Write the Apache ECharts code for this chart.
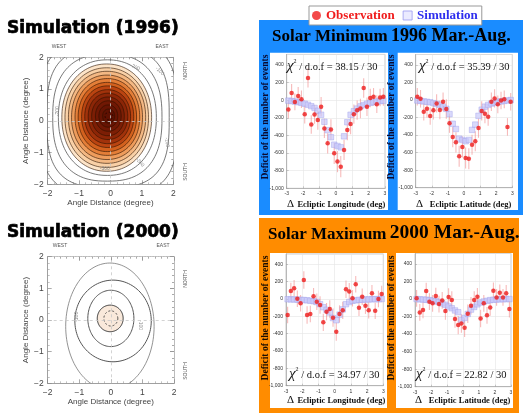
<!DOCTYPE html>
<html><head><meta charset="utf-8">
<script src="https://cdn.jsdelivr.net/npm/echarts@6/dist/echarts.min.js"></script>
<style>html,body{margin:0;padding:0;background:#fff}#c{width:523px;height:413px}</style>
</head><body><div id="c"></div>
<script>
// ---------------- data ----------------
const bins = [-2.9,-2.7,-2.5,-2.3,-2.1,-1.9,-1.7,-1.5,-1.3,-1.1,-0.9,-0.7,-0.5,-0.3,-0.1,0.1,0.3,0.5,0.7,0.9,1.1,1.3,1.5,1.7,1.9,2.1,2.3,2.5,2.7,2.9];

const obsLon96 = [-106,83,-19,49,11,-158,253,-275,-162,-226,-75,-320,-490,-332,-603,-697,-754,-565,-339,-271,-158,-113,-94,139,-75,26,38,-45,30,38];
const simLon96 = [-5,-10,-15,-22,-30,-40,-52,-68,-88,-120,-165,-245,-340,-420,-505,-520,-535,-410,-250,-165,-125,-95,-70,-55,-40,-30,-22,-15,-10,-5];
const errLon96 = [100,100,95,100,100,105,110,105,105,110,110,110,115,115,120,120,120,115,115,115,110,110,110,110,105,105,100,100,100,100];

const obsLat96 = [38,15,-132,-98,-181,-117,-38,-113,-19,-102,-264,-422,-482,-640,-535,-660,-670,-510,-470,-320,-124,-155,-189,-19,19,-49,-4,8,-306,-19];
const simLat96 = [-5,-10,-15,-20,-25,-35,-45,-55,-75,-100,-160,-270,-330,-440,-455,-470,-455,-340,-280,-180,-110,-75,-55,-40,-30,-20,-15,-10,-5,0];
const errLat96 = [100,100,100,100,100,105,105,105,105,110,110,115,115,120,120,120,120,115,115,110,110,110,105,105,105,100,100,100,100,100];

const obsLon00 = [-185,92,123,4,-50,219,-185,-173,31,-31,-69,-269,-146,-115,-215,-377,-173,-131,112,85,8,169,-100,27,-77,-131,65,-135,0,58];
const simLon00 = [-3,-5,-5,-8,-10,-12,-15,-20,-25,-35,-60,-95,-125,-155,-220,-245,-180,-120,-60,-35,-20,-15,-10,-8,-5,-5,-3,-2,-2,0];
const errLon00 = [95,95,95,95,95,100,100,95,95,95,100,100,100,100,105,105,100,100,100,100,95,95,95,95,95,95,95,95,95,95];

const obsLat00 = [8,-152,-125,91,-30,-49,34,-57,-15,-137,23,-11,-228,-297,-278,-327,-167,-76,-11,27,-221,-49,-186,-95,95,19,72,19,65,-114];
const simLat00 = [0,-3,-5,-8,-12,-18,-25,-35,-50,-65,-85,-105,-130,-150,-240,-215,-170,-120,-90,-60,-40,-28,-20,-12,-8,-5,-3,-2,0,0];
const errLat00 = [95,95,95,95,95,95,95,95,95,100,100,100,100,105,105,105,105,100,100,100,100,95,95,95,95,95,95,95,95,95];

const chiValues = ['38.15','35.39','34.97','22.82'];
const dofValue = '30';
const angleTickLabels = {'-2':'\u22122','-1':'\u22121','0':'0','1':'1','2':'2'};

// contour levels 1996 (filled, outer -> inner)
const fill96Cx = [-0.12,-0.12,-0.11,-0.11,-0.10,-0.10,-0.09,-0.09,-0.08,-0.08,-0.07,-0.07,-0.06];
const fill96Cy = [0.10,0.10,0.11,0.11,0.12,0.12,0.13,0.13,0.14,0.14,0.15,0.15,0.15];
const fill96Rx = [1.43,1.33,1.23,1.13,1.03,0.93,0.83,0.73,0.63,0.52,0.41,0.30,0.19];
const fill96Ry = [1.69,1.57,1.45,1.33,1.21,1.09,0.97,0.85,0.73,0.61,0.48,0.35,0.22];
// contour lines 1996 outside the filled area
const line96Cx = [-0.06,-0.08,-0.10,-0.10];
const line96Cy = [0.10,0.10,0.10,0.10];
const line96Rx = [2.2,1.95,1.74,1.56];
const line96Ry = [2.45,2.2,2.0,1.82];
const line96N  = [3.2,3.0,2.5,2.2];
const center96 = [-0.05,0.15,0.12,0.12];
const lab96X = [-1.67,-0.18,0.94,1.8,0.78,1.57];
const lab96Y = [0.3,-1.5,-1.31,-0.68,1.69,1.56];
const lab96Text = ['-200','-300','-200','-100','-200','-100'];
const lab96Rot = [90,0,-50,-80,-25,-45];

// contour levels 2000 (outer -> inner)
const c00Cx = [-0.03,0.07,0.0,-0.02,0.0];
const c00Cy = [-0.2,-0.03,0.05,0.05,0.05];
const c00Rx = [1.4,1.21,0.73,0.41,0.22];
const c00Ry = [2.0,1.29,0.89,0.42,0.24];
const lab00X = [-1.08,0.92];
const lab00Y = [0.1,-0.16];
const lab00Text = ['-100','-100'];
const lab00Rot = [90,-90];

// ---------------- styles ----------------
const fill96Color = ['#fde4c8','#f9d0a6','#f4b883','#ee9c5c','#e47e38','#d3611e','#ba4411','#a1320b','#8c2607','#7c1e05','#701804','#661403','#5e1102'];
const c00Fill = ['none','none','none','#f9e9db','none'];
const c00Stroke = ['#777','#555','#555','#333','#444'];
const c00Dash = [null,null,null,null,[2,2]];
const SERIF = '"Liberation Serif", "Times New Roman", serif';
const SANS = '"Liberation Sans", Arial, sans-serif';

function shapePoints(api, cx, cy, rx, ry, n) {
  const pts = [];
  const ex = 2 / n;
  for (let k = 0; k < 120; k++) {
    const t = k / 120 * 2 * Math.PI;
    const c = Math.cos(t), s = Math.sin(t);
    pts.push(api.coord([cx + rx * Math.sign(c) * Math.pow(Math.abs(c), ex),
                        cy + ry * Math.sign(s) * Math.pow(Math.abs(s), ex)]));
  }
  return pts;
}
function contourSeries(gi, data, styleFn) {
  return {
    type: 'custom', xAxisIndex: gi, yAxisIndex: gi, clip: true, silent: true, z: 2,
    data: data,
    renderItem: function (params, api) {
      const i = params.dataIndex;
      return { type: 'polygon',
        shape: { points: shapePoints(api, api.value(0), api.value(1), api.value(2), api.value(3), api.value(4)) },
        style: styleFn(i) };
    }
  };
}
function labelSeries(gi, xs, ys, texts, rots) {
  return {
    type: 'custom', xAxisIndex: gi, yAxisIndex: gi, clip: true, silent: true, z: 4,
    data: xs.map((x, i) => [x, ys[i]]),
    renderItem: function (params, api) {
      const i = params.dataIndex;
      const p = api.coord([api.value(0), api.value(1)]);
      return { type: 'text', x: p[0], y: p[1], rotation: rots[i] * Math.PI / 180,
        style: { text: texts[i], fill: '#888', font: '5px ' + SANS, align: 'center', verticalAlign: 'middle' } };
    }
  };
}
function errItem(params, api) {
  const x = api.value(0), y = api.value(1), e = api.value(2);
  const p1 = api.coord([x, y - e]), p2 = api.coord([x, y + e]);
  return { type: 'line', shape: { x1: p1[0], y1: p1[1], x2: p2[0], y2: p2[1] },
    style: { stroke: 'rgba(240,130,130,0.55)', lineWidth: 1.1 } };
}
function panelSeries(gi, obs, sim, err) {
  return [
    { type: 'custom', name: 'err' + gi, xAxisIndex: gi, yAxisIndex: gi, silent: true, z: 2,
      data: bins.map((x, i) => [x, obs[i], err[i]]), renderItem: errItem },
    { type: 'scatter', name: 'Simulation', xAxisIndex: gi, yAxisIndex: gi, z: 3, silent: true,
      data: bins.map((x, i) => [x, sim[i]]), symbol: 'rect', symbolSize: 5.5,
      itemStyle: { color: 'rgba(200,200,250,0.85)', borderColor: 'rgba(160,160,235,0.9)', borderWidth: 0.6 } },
    { type: 'scatter', name: 'Observation', xAxisIndex: gi, yAxisIndex: gi, z: 4, silent: true,
      data: bins.map((x, i) => [x, obs[i]]), symbol: 'circle', symbolSize: 4.5,
      itemStyle: { color: '#ee1c1c' } }
  ];
}

// ---------------- layout ----------------
const grids = [
  { left: 47.7, top: 57.3, width: 125.6, height: 127 },
  { left: 47.7, top: 256.7, width: 126.3, height: 126.6 },
  { left: 286.7, top: 54.4, width: 98.3, height: 133.9 },
  { left: 415.7, top: 54.5, width: 96.6, height: 133.2 },
  { left: 286, top: 253.9, width: 97.3, height: 131.8 },
  { left: 415, top: 253.5, width: 96, height: 133.2 }
].map((g, i) => Object.assign({ show: i >= 2, borderColor: '#aaa', borderWidth: 0.6, backgroundColor: 'transparent', outerBoundsMode: 'none', containLabel: false }, g));

const xAxes = [], yAxes = [];
for (let gi = 0; gi < 2; gi++) {
  xAxes.push({ gridIndex: gi, type: 'value', min: -2, max: 2, interval: 1,
    axisLine: { show: true, onZero: false, lineStyle: { color: '#888', width: 0.8 } },
    axisTick: { show: true, inside: true, length: 4, lineStyle: { color: '#888', width: 0.7 } },
    minorTick: { show: true, splitNumber: 5, length: 2, lineStyle: { color: '#999', width: 0.6 } },
    axisLabel: { fontSize: 8.5, color: '#444', fontFamily: SANS, margin: 5, formatter: v => angleTickLabels[String(v)] },
    splitLine: { show: false },
    name: 'Angle Distance (degree)', nameLocation: 'middle', nameGap: 14,
    nameTextStyle: { fontSize: 8, color: '#444', fontFamily: SANS } });
  yAxes.push({ gridIndex: gi, type: 'value', min: -2, max: 2, interval: 1,
    axisLine: { show: true, onZero: false, lineStyle: { color: '#888', width: 0.8 } },
    axisTick: { show: true, inside: true, length: 4, lineStyle: { color: '#888', width: 0.7 } },
    minorTick: { show: true, splitNumber: 5, length: 2, lineStyle: { color: '#999', width: 0.6 } },
    axisLabel: { fontSize: 8.5, color: '#444', fontFamily: SANS, margin: 4, formatter: v => angleTickLabels[String(v)] },
    splitLine: { show: false },
    name: 'Angle Distance (degree)', nameLocation: 'middle', nameGap: 15, nameRotate: 90,
    nameTextStyle: { fontSize: 8, color: '#444', fontFamily: SANS } });
}
for (let gi = 2; gi < 6; gi++) {
  xAxes.push({ gridIndex: gi, type: 'value', min: -3, max: 3, interval: 1,
    axisLine: { show: true, onZero: false, lineStyle: { color: '#999', width: 0.6 } },
    axisTick: { show: true, inside: true, length: 2, lineStyle: { color: '#999', width: 0.5 } },
    axisLabel: { fontSize: 5, color: '#333', fontFamily: SANS, margin: 3 },
    splitLine: { show: true, lineStyle: { color: '#e4e4e4', width: 0.6 } } });
  yAxes.push({ gridIndex: gi, type: 'value', min: -1000, max: 520, interval: 200,
    axisLine: { show: true, onZero: false, lineStyle: { color: '#999', width: 0.6 } },
    axisTick: { show: true, inside: true, length: 2, lineStyle: { color: '#999', width: 0.5 } },
    axisLabel: { fontSize: 5, color: '#333', fontFamily: SANS, margin: 3, showMaxLabel: false },
    splitLine: { show: true, lineStyle: { color: '#e4e4e4', width: 0.6 } } });
}
// frame axes (top / right) for contour plots
for (let gi = 0; gi < 2; gi++) {
  xAxes.push({ gridIndex: gi, type: 'value', position: 'top', min: -2, max: 2, interval: 1,
    axisLine: { show: true, onZero: false, lineStyle: { color: '#aaa', width: 0.8, type: 'dotted' } },
    axisTick: { show: true, inside: true, length: 4, lineStyle: { color: '#999' } },
    minorTick: { show: true, splitNumber: 5, length: 2, lineStyle: { color: '#aaa' } },
    axisLabel: { show: false }, splitLine: { show: false } });
  yAxes.push({ gridIndex: gi, type: 'value', position: 'right', min: -2, max: 2, interval: 1,
    axisLine: { show: true, onZero: false, lineStyle: { color: '#aaa', width: 0.8 } },
    axisTick: { show: true, inside: true, length: 4, lineStyle: { color: '#999' } },
    minorTick: { show: true, splitNumber: 5, length: 2, lineStyle: { color: '#aaa' } },
    axisLabel: { show: false }, splitLine: { show: false } });
}

// ---------------- series ----------------
const series = [];
for (let gi = 0; gi < 2; gi++) {
  series.push({ type: 'scatter', xAxisIndex: gi, yAxisIndex: gi, data: [[0, 0]], symbolSize: 0, silent: true, z: 1,
    markLine: { silent: true, symbol: 'none', animation: false, label: { show: false },
      lineStyle: { type: [3, 3], color: '#c8c8c8', width: 0.8 }, data: [{ xAxis: 0 }, { yAxis: 0 }] } });
}
series.push(contourSeries(0, line96Cx.map((c, i) => [c, line96Cy[i], line96Rx[i], line96Ry[i], line96N[i]]),
  i => ({ fill: 'none', stroke: '#555', lineWidth: 0.8 })));
series.push(contourSeries(0, fill96Cx.map((c, i) => [c, fill96Cy[i], fill96Rx[i], fill96Ry[i], 2.1]),
  i => ({ fill: fill96Color[i], stroke: '#2a1000', lineWidth: 0.6 })));
series.push(contourSeries(0, [[center96[0], center96[1], center96[2], center96[3], 2]],
  i => ({ fill: 'none', stroke: '#1a0800', lineWidth: 0.7, lineDash: [2, 2] })));
series.push(labelSeries(0, lab96X, lab96Y, lab96Text, lab96Rot));
series.push(contourSeries(1, c00Cx.map((c, i) => [c, c00Cy[i], c00Rx[i], c00Ry[i], 2]),
  i => ({ fill: c00Fill[i], stroke: c00Stroke[i], lineWidth: i === 0 ? 0.8 : 1, lineDash: c00Dash[i] })));
series.push(labelSeries(1, lab00X, lab00Y, lab00Text, lab00Rot));
series.push(...panelSeries(2, obsLon96, simLon96, errLon96));
series.push(...panelSeries(3, obsLat96, simLat96, errLat96));
series.push(...panelSeries(4, obsLon00, simLon00, errLon00));
series.push(...panelSeries(5, obsLat00, simLat00, errLat00));

// ---------------- decorations ----------------
function txt(x, y, text, font, fill, align, rot, extraStyle) {
  return { type: 'text', x: x, y: y, rotation: (rot || 0) * Math.PI / 180, z: 20, silent: true,
    style: Object.assign({ text: text, font: font, fill: fill, align: align || 'center', verticalAlign: 'middle' }, extraStyle || {}) };
}
function richTxt(x, y, text, rich, align, fill) {
  return { type: 'text', x: x, y: y, z: 20, silent: true,
    style: { text: text, rich: rich, align: align || 'left', verticalAlign: 'middle', fill: fill || '#000' } };
}
const chiRich = {
  c: { fontSize: 15, fontStyle: 'italic', fontFamily: SERIF, fill: '#111', verticalAlign: 'bottom' },
  s: { fontSize: 6, fontFamily: SERIF, fill: '#111', verticalAlign: 'top' },
  t: { fontSize: 10.5, fontFamily: SERIF, fill: '#111', verticalAlign: 'bottom', padding: [0, 0, 1, 0] }
};
const axRich = {
  d: { fontSize: 11, fontFamily: SERIF, fill: '#111', verticalAlign: 'bottom' },
  t: { fontSize: 8.5, fontWeight: 'bold', fontFamily: SERIF, fill: '#111', verticalAlign: 'bottom', padding: [0, 0, 1, 0] }
};
const titleRichTop = {
  a: { fontSize: 17, fontWeight: 'bold', fontFamily: SERIF, fill: '#000', verticalAlign: 'bottom' },
  b: { fontSize: 18, fontWeight: 'bold', fontFamily: SERIF, fill: '#000', verticalAlign: 'bottom' }
};
const titleRichBot = {
  a: { fontSize: 17, fontWeight: 'bold', fontFamily: SERIF, fill: '#000', verticalAlign: 'bottom' },
  b: { fontSize: 19.5, fontWeight: 'bold', fontFamily: SERIF, fill: '#000', verticalAlign: 'bottom' }
};
const chiText = v => '{c|\u03C7}{s|2}{t| / d.o.f = ' + v + ' / ' + dofValue + '}';
const heavy = { stroke: '#000', lineWidth: 0.7 };

const graphics = [
  { type: 'rect', z: -10, silent: true, shape: { x: 259, y: 20, width: 264, height: 195 }, style: { fill: '#1a8cff' } },
  { type: 'rect', z: -10, silent: true, shape: { x: 259, y: 218, width: 260, height: 195 }, style: { fill: '#ff8c00' } },
  { type: 'rect', z: -9, silent: true, shape: { x: 270, y: 52.7, width: 118, height: 157.3 }, style: { fill: '#fff' } },
  { type: 'rect', z: -9, silent: true, shape: { x: 397.7, y: 52.7, width: 120.3, height: 157.3 }, style: { fill: '#fff' } },
  { type: 'rect', z: -9, silent: true, shape: { x: 270, y: 253, width: 117, height: 155 }, style: { fill: '#fff' } },
  { type: 'rect', z: -9, silent: true, shape: { x: 396, y: 253, width: 117, height: 155 }, style: { fill: '#fff' } },
  txt(7, 29, 'Simulation (1996)', 'bold 17px "DejaVu Sans", sans-serif', '#000', 'left', 0, heavy),
  txt(7, 233, 'Simulation (2000)', 'bold 17px "DejaVu Sans", sans-serif', '#000', 'left', 0, heavy),
  txt(59, 47, 'WEST', '5px ' + SANS, '#555'),
  txt(162, 47, 'EAST', '5px ' + SANS, '#555'),
  txt(186, 71, 'NORTH', '5px ' + SANS, '#555', 'center', 90),
  txt(186, 172, 'SOUTH', '5px ' + SANS, '#555', 'center', 90),
  txt(60, 246, 'WEST', '5px ' + SANS, '#555'),
  txt(163, 246, 'EAST', '5px ' + SANS, '#555'),
  txt(186, 279, 'NORTH', '5px ' + SANS, '#555', 'center', 90),
  txt(186, 371, 'SOUTH', '5px ' + SANS, '#555', 'center', 90),
  richTxt(272, 36, '{a|Solar Minimum} {b|1996 Mar.-Aug.}', titleRichTop),
  richTxt(268, 233, '{a|Solar Maximum} {b|2000 Mar.-Aug.}', titleRichBot),
  txt(266, 117, 'Deficit of the number of events', 'bold 9.5px ' + SERIF, '#0a0a30', 'center', 90),
  txt(392, 117, 'Deficit of the number of events', 'bold 9.5px ' + SERIF, '#0a0a30', 'center', 90),
  txt(266, 318, 'Deficit of the number of events', 'bold 9.5px ' + SERIF, '#1a0d00', 'center', 90),
  txt(392, 318, 'Deficit of the number of events', 'bold 9.5px ' + SERIF, '#1a0d00', 'center', 90),
  richTxt(287, 204, '{d|\u0394} {t|Ecliptic Longitude (deg)}', axRich),
  richTxt(416, 204, '{d|\u0394}  {t|Ecliptic Latitude (deg)}', axRich),
  richTxt(287, 400, '{d|\u0394} {t|Ecliptic Longitude (deg)}', axRich),
  richTxt(415, 400, '{d|\u0394}  {t|Ecliptic Latitude (deg)}', axRich),
  richTxt(287, 66, chiText(chiValues[0]), chiRich),
  richTxt(419, 66, chiText(chiValues[1]), chiRich),
  richTxt(289, 374, chiText(chiValues[2]), chiRich),
  richTxt(416, 374, chiText(chiValues[3]), chiRich)
];

const option = {
  animation: false,
  backgroundColor: '#fff',
  grid: grids,
  xAxis: xAxes,
  yAxis: yAxes,
  legend: {
    left: 309, top: 6, orient: 'horizontal', padding: [3, 4, 3, 3], itemGap: 8,
    itemWidth: 9, itemHeight: 9, backgroundColor: '#fff', borderColor: '#999', borderWidth: 1, borderRadius: 0,
    selectedMode: false,
    textStyle: { fontFamily: SERIF, fontWeight: 'bold', fontSize: 13 },
    data: [
      { name: 'Observation', icon: 'circle', itemStyle: { color: '#f01c1c', borderWidth: 0 }, textStyle: { color: '#f01c1c' } },
      { name: 'Simulation', icon: 'rect', itemStyle: { color: '#e6e6ff', borderColor: '#9a9af0', borderWidth: 1 }, textStyle: { color: '#2f2fee' } }
    ]
  },
  graphic: { elements: graphics },
  series: series
};
const chart = echarts.init(document.getElementById('c'), null, { renderer: 'canvas', width: 523, height: 413 });
chart.setOption(option);
</script>
</body></html>
